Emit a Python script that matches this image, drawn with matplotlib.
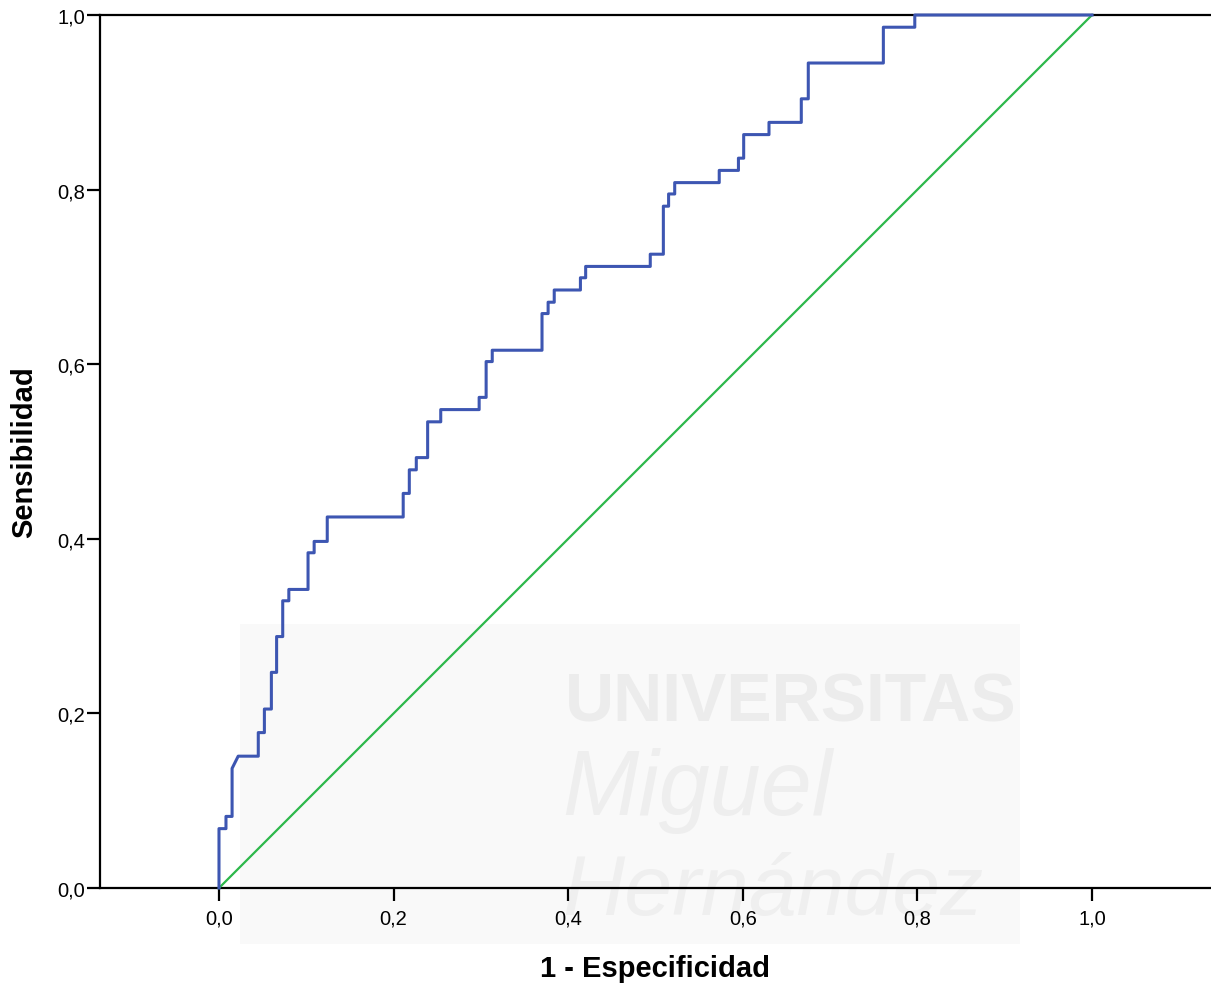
import matplotlib
matplotlib.use("Agg")
import matplotlib.pyplot as plt
from matplotlib.patches import Rectangle

# ROC curve corner points (1 - specificity, sensitivity)
fpr = [0.000, 0.000, 0.008, 0.008, 0.015, 0.015, 0.022, 0.045, 0.045, 0.052,
       0.052, 0.060, 0.060, 0.066, 0.066, 0.073, 0.073, 0.080, 0.080, 0.102,
       0.102, 0.109, 0.109, 0.124, 0.124, 0.211, 0.211, 0.218, 0.218, 0.226,
       0.226, 0.239, 0.239, 0.254, 0.254, 0.298, 0.298, 0.306, 0.306, 0.313,
       0.313, 0.370, 0.370, 0.377, 0.377, 0.384, 0.384, 0.414, 0.414, 0.420,
       0.420, 0.494, 0.494, 0.509, 0.509, 0.515, 0.515, 0.522, 0.522, 0.573,
       0.573, 0.595, 0.595, 0.601, 0.601, 0.630, 0.630, 0.667, 0.667, 0.675,
       0.675, 0.761, 0.761, 0.797, 0.797, 1.000]
tpr = [0.000, 0.068, 0.068, 0.082, 0.082, 0.137, 0.151, 0.151, 0.178, 0.178,
       0.205, 0.205, 0.247, 0.247, 0.288, 0.288, 0.329, 0.329, 0.342, 0.342,
       0.384, 0.384, 0.397, 0.397, 0.425, 0.425, 0.452, 0.452, 0.479, 0.479,
       0.493, 0.493, 0.534, 0.534, 0.548, 0.548, 0.562, 0.562, 0.603, 0.603,
       0.616, 0.616, 0.658, 0.658, 0.671, 0.671, 0.685, 0.685, 0.699, 0.699,
       0.712, 0.712, 0.726, 0.726, 0.781, 0.781, 0.795, 0.795, 0.808, 0.808,
       0.822, 0.822, 0.836, 0.836, 0.863, 0.863, 0.877, 0.877, 0.904, 0.904,
       0.945, 0.945, 0.986, 0.986, 1.000, 1.000]

# Reference diagonal
ref_x = [0.0, 1.0]
ref_y = [0.0, 1.0]

ticks = [0.0, 0.2, 0.4, 0.6, 0.8, 1.0]
tick_labels = ["0,0", "0,2", "0,4", "0,6", "0,8", "1,0"]

plt.rcParams["font.family"] = ["Liberation Sans", "DejaVu Sans"]

W, H = 1211, 987
fig = plt.figure(figsize=(W / 100, H / 100), dpi=100)
fig.patch.set_facecolor("white")

ax = fig.add_axes([100 / W, 98 / H, 1111 / W, 873 / H])
ax.set_facecolor("none")

# Faint background emblem, drawn beneath the curves
ft = fig.transFigure
ax.add_patch(Rectangle((240 / W, 1 - 945 / H), 780 / W, 320 / H, transform=ft,
                       facecolor="#f9f9f9", edgecolor="none", zorder=0.1,
                       clip_on=False))
ax.text(565 / W, 1 - 722 / H, "UNIVERSITAS", transform=ft, fontsize=49,
        fontweight="bold", color="#ececec", ha="left", va="baseline",
        zorder=0.2, clip_on=False)
ax.text(562 / W, 1 - 815 / H, "Miguel", transform=ft, fontsize=66,
        fontstyle="italic", color="#eeeeee", ha="left", va="baseline",
        zorder=0.2, clip_on=False)
ax.text(562 / W, 1 - 915 / H, "Hernández", transform=ft, fontsize=62,
        fontstyle="italic", color="#efefef", ha="left", va="baseline",
        zorder=0.2, clip_on=False)

ax.plot(ref_x, ref_y, color="#2db84b", linewidth=1.6, clip_on=False, zorder=3)
ax.plot(fpr, tpr, color="#3d56b2", linewidth=2.2, clip_on=False, zorder=4)

ax.set_xlim(-0.1363, 1.1363)
ax.set_ylim(0.0, 1.0)

ax.set_xticks(ticks)
ax.set_xticklabels(tick_labels)
ax.set_yticks(ticks)
ax.set_yticklabels(tick_labels)

for side in ["left", "bottom", "top"]:
    ax.spines[side].set_linewidth(1.6)
    ax.spines[side].set_color("black")
ax.spines["right"].set_visible(False)

ax.tick_params(axis="both", direction="out", length=9.5, width=1.6,
               labelsize=14.5, colors="black", top=False, right=False)
ax.tick_params(axis="x", pad=5)
ax.tick_params(axis="y", pad=1)

ax.set_xlabel("1 - Especificidad", fontsize=21, fontweight="bold", labelpad=19)
ax.set_ylabel("Sensibilidad", fontsize=21, fontweight="bold", labelpad=14)

fig.savefig("out.png", dpi=100, facecolor="white")
